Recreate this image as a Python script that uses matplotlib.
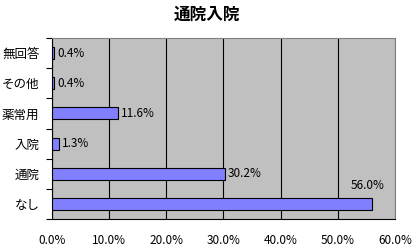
import matplotlib
matplotlib.use("Agg")
import matplotlib.pyplot as plt
import numpy as np

plt.rcParams['font.family'] = ['Noto Sans CJK JP', 'DejaVu Sans']

categories = ["無回答", "その他", "薬常用", "入院", "通院", "なし"]
values = [0.4, 0.4, 11.6, 1.3, 30.2, 56.0]
xticks = [0, 10, 20, 30, 40, 50, 60]
xticklabels = ["0.0%", "10.0%", "20.0%", "30.0%", "40.0%", "50.0%", "60.0%"]

fig = plt.figure(figsize=(4.14, 2.48), dpi=100)
ax = fig.add_axes([52/414, 1-219/248, (395-52)/414, (219-38)/248])
ax.set_facecolor("#C0C0C0")

y = np.arange(len(categories))
ax.barh(y, values, height=0.4, color="#8080FF", edgecolor="black", linewidth=0.8, zorder=3)
ax.set_ylim(len(categories)-0.5, -0.5)
ax.set_xlim(0, 60)
ax.set_xticks(xticks)
ax.set_xticklabels(xticklabels, fontsize=8.5)
ax.set_yticks(y)
ax.set_yticklabels(categories, fontsize=9)
ax.tick_params(axis='y', length=0, pad=9)
ax.tick_params(axis='x', length=0, pad=11)
ax.set_yticks(np.arange(-0.5, len(categories), 1), minor=True)
ax.tick_params(axis='y', which='minor', length=4, width=0.8, direction='out')
ax.grid(axis='x', color='black', linewidth=0.8, zorder=1)
for s in ['top', 'right']:
    ax.spines[s].set_color('#808080')
    ax.spines[s].set_linewidth(0.8)
for s in ['left', 'bottom']:
    ax.spines[s].set_color('black')
    ax.spines[s].set_linewidth(0.8)

for i, v in enumerate(values):
    if v > 50:
        ax.text(v - 0.8, i - 0.6, f"{v:.1f}%", fontsize=8.5, ha='center', va='center', zorder=4)
    else:
        ax.text(v + 0.5, i, f"{v:.1f}%", fontsize=8.5, ha='left', va='center', zorder=4)

fig.text(0.5, 1-15/248, "通院入院", ha='center', va='center', fontsize=12, fontweight='bold')
fig.savefig("out.png", dpi=100)
